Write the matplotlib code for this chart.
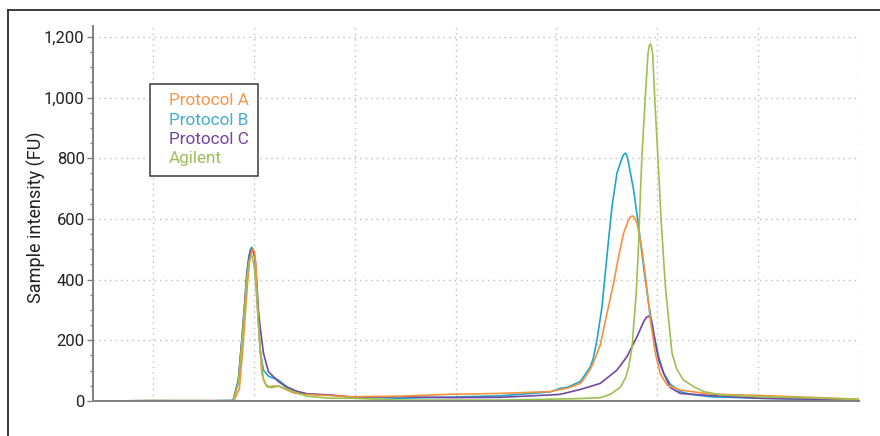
import matplotlib
matplotlib.use("Agg")
import matplotlib.pyplot as plt
from matplotlib.ticker import MultipleLocator, StrMethodFormatter
from matplotlib.lines import Line2D

plt.rcParams['font.family'] = ['Roboto', 'DejaVu Sans']

# migration time (s) and intensity (FU)
t_a = [14.05, 20, 25, 28.0, 28.56, 28.9, 29.16, 29.4, 29.6, 29.78, 29.92, 30.08, 30.2, 30.29,
       30.45, 30.62, 30.78, 31.1, 31.44, 31.9, 32.43, 32.9, 33.9, 34.9, 37.56, 39.55, 44.51,
       49.47, 54.43, 59.39, 60.38, 61.07, 62.36, 62.66, 63.36, 63.65, 64.35, 65.01,
       65.67, 66.16, 66.66, 67.15, 67.35, 67.55, 67.75, 67.99, 68.49, 68.91, 69.31, 69.81,
       70.31, 70.97, 71.30, 72.28, 75.26, 80.22, 85.18, 90]
fu_a = [0, 1, 1, 0, 40, 170, 290, 400, 465, 494, 501, 490, 445, 377,
        267, 168, 92, 59, 47, 49, 50, 42, 27, 22, 18, 14, 16,
        22, 25, 31, 38, 42, 58, 69, 105, 125, 185, 289,
        388, 476, 553, 597, 607, 610, 604, 586, 498, 388, 267, 157,
        88, 53, 48, 36, 23, 18, 12, 6]

t_b = [14.05, 20, 25, 27.94, 28.46, 28.80, 29.06, 29.30, 29.50, 29.65, 29.79, 29.95, 30.12,
       30.29, 30.45, 30.62, 30.95, 31.44, 32.43, 33.27, 34.26, 35.25, 37.56, 39.55, 44.51,
       49.47, 54.43, 59.39, 60.38, 61.07, 62.36, 62.66, 63.36, 63.65, 64.02, 64.52,
       64.84, 65.17, 65.51, 66.00, 66.50, 66.66, 66.83, 67.0, 67.15, 67.65, 68.15, 68.64,
       69.14, 69.64, 70.14, 70.63, 71.30, 72.28, 73.28, 75.26, 80.22, 85.18, 90]
fu_b = [0, 1, 0, 2, 69, 201, 311, 422, 476, 498, 507, 496, 465,
        366, 257, 168, 102, 82, 69, 47, 31, 23, 19, 14, 9,
        13, 17, 30, 42, 45, 64, 78, 113, 140, 201, 311,
        421, 531, 641, 751, 800, 812, 817, 808, 784, 696, 575, 443,
        322, 223, 146, 91, 55, 31, 22, 14, 9, 6, 4]

t_c = [14.05, 20, 27.94, 28.46, 28.80, 29.06, 29.30, 29.50, 29.65, 29.79, 29.95, 30.12,
       30.29, 30.45, 30.62, 30.95, 31.44, 32.43, 33.27, 34.26, 35.25, 37.56, 39.55, 44.51,
       49.47, 54.43, 59.39, 60.38, 62.36, 63.36, 64.35, 66.00, 66.99, 67.99, 68.64, 68.9,
       69.14, 69.3, 69.48, 69.81, 70.14, 70.63, 71.30, 72.28, 75.26, 80.22, 85.18, 90]
fu_c = [0, 1, 1, 65, 195, 305, 415, 470, 492, 500, 490, 470,
        390, 300, 245, 158, 97, 64, 45, 32, 24, 20, 13, 14,
        11, 12, 20, 22, 38, 48, 58, 102, 146, 212, 261, 275,
        280, 274, 256, 190, 135, 91, 44, 25, 18, 9, 6, 3]

t_ag = [14.05, 20, 27.94, 28.46, 28.80, 29.06, 29.30, 29.50, 29.65, 29.79, 30.05, 30.3,
        30.45, 30.65, 30.95, 31.3, 31.8, 32.43, 32.9, 33.9, 35.25, 37.56, 39.55, 44.51,
        49.47, 54.43, 59.39, 62.36, 64.35, 65.34, 66.33, 66.83, 67.15, 67.49, 67.92, 68.15,
        68.32, 68.49, 68.81, 69.08, 69.2, 69.31, 69.42, 69.54, 69.74, 70.04, 70.38, 70.80,
        71.46, 71.96, 72.61, 73.61, 74.60, 76.25, 80.22, 85.18, 90]
fu_ag = [0, 1, 1, 60, 190, 300, 405, 455, 474, 480, 440, 330,
         257, 168, 69, 47, 44, 49, 44, 31, 16, 9, 9, 3,
         3, 3, 6, 8, 11, 22, 45, 75, 110, 175, 360, 520,
         680, 817, 1000, 1146, 1170, 1177, 1168, 1146, 1000, 817, 597, 377,
         157, 102, 69, 47, 31, 20, 14, 10, 5]

names = ['Protocol A', 'Protocol B', 'Protocol C', 'Agilent']
line_colors = ['#F5923E', '#1FA6CB', '#7448A2', '#9DC150']
text_colors = ['#F7964A', '#45ADC8', '#7444A2', '#9BBE5A']

fig = plt.figure(figsize=(8.8, 4.36), dpi=100)
ax = fig.add_axes([93 / 880, 1 - 401 / 436, 766 / 880, 375 / 436])

series = {'Protocol A': (t_a, fu_a), 'Protocol B': (t_b, fu_b),
          'Protocol C': (t_c, fu_c), 'Agilent': (t_ag, fu_ag)}
for name in ['Protocol B', 'Protocol C', 'Protocol A', 'Agilent']:
    t, fu = series[name]
    ax.plot(t, fu, color=line_colors[names.index(name)], lw=1.2, label=name)

ax.set_xlim(14.05, 90)
ax.set_ylim(0, 1236)
ax.set_xticks(range(20, 91, 10))
ax.tick_params(axis='x', length=0, labelbottom=False)
ax.yaxis.set_major_locator(MultipleLocator(200))
ax.yaxis.set_minor_locator(MultipleLocator(50))
ax.yaxis.set_major_formatter(StrMethodFormatter('{x:,.0f}'))
ax.tick_params(axis='y', which='major', length=4, width=1, color='#808080',
               labelsize=12, labelcolor='#231F20', pad=2)
ax.tick_params(axis='y', which='minor', length=2.5, width=1, color='#808080')
ax.grid(True, which='major', linestyle=(0, (1, 3)), color='#BDBDBD', lw=1)
ax.set_axisbelow(True)
for s in ['top', 'right']:
    ax.spines[s].set_visible(False)
for s in ['left', 'bottom']:
    ax.spines[s].set_color('#808080')
    ax.spines[s].set_linewidth(1.4)

ax.set_ylabel('Sample intensity (FU)', fontsize=13, color='#231F20')
ax.yaxis.set_label_coords(-0.062, 0.49)

handles, labels = ax.get_legend_handles_labels()
order = [labels.index(n) for n in names]
leg = ax.legend([handles[i] for i in order], names, loc='upper left',
                bbox_to_anchor=(150 / 880, 1 - 84 / 436), bbox_transform=fig.transFigure,
                borderaxespad=0, handlelength=0.55, handletextpad=0, fontsize=12.3,
                frameon=True, fancybox=False, edgecolor='#3A3A3A', framealpha=1,
                borderpad=0.55, labelspacing=0.25)
leg.get_frame().set_linewidth(1.1)
for h in leg.legend_handles:
    h.set_visible(False)
for txt, c in zip(leg.get_texts(), text_colors):
    txt.set_color(c)

# outer frame of the figure panel
fig.add_artist(Line2D([8 / 880, 1.0], [1 - 10.5 / 436] * 2, transform=fig.transFigure,
                      color='#2B2B2B', lw=1.3))
fig.add_artist(Line2D([8 / 880] * 2, [0, 1 - 10.5 / 436], transform=fig.transFigure,
                      color='#2B2B2B', lw=1.3))

fig.savefig('out.png', dpi=100)
